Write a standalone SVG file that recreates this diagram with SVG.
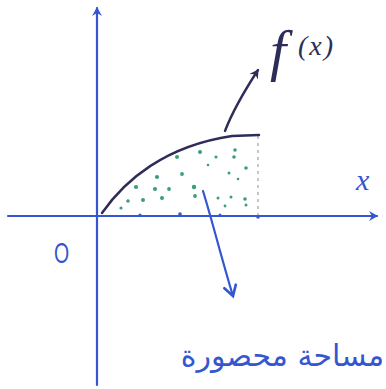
<svg xmlns="http://www.w3.org/2000/svg" width="386" height="389" viewBox="0 0 386 389">
<style>
.ax{stroke:#3556d0;stroke-width:2.2;fill:none;stroke-linecap:round}
.ink{stroke:#2e2d5a;stroke-width:2.4;fill:none;stroke-linecap:round}
.dot{fill:#3a9e7c}
.blue{fill:#3556d0}
.navy{fill:#2e2d5a}
</style>
<defs>
<marker id="ahB" markerWidth="12" markerHeight="12" refX="9" refY="6" orient="auto" markerUnits="userSpaceOnUse">
<path d="M1,1 L10,6 L1,11 L4,6 Z" fill="#3556d0"/>
</marker>
<marker id="ahN" markerWidth="12" markerHeight="12" refX="9" refY="6" orient="auto" markerUnits="userSpaceOnUse">
<path d="M1,1 L10,6 L1,11 L4,6 Z" fill="#2e2d5a"/>
</marker>
<marker id="ahV" markerWidth="16" markerHeight="16" refX="12" refY="8" orient="auto" markerUnits="userSpaceOnUse">
<path d="M2,2 L12,8 L2,14" fill="none" stroke="#3556d0" stroke-width="2.6" stroke-linecap="round"/>
</marker>
</defs>
<rect width="386" height="389" fill="#ffffff"/>
<g id="axes">
<line class="ax" x1="97" y1="385" x2="97" y2="8" marker-end="url(#ahB)"/>
<line class="ax" x1="8" y1="216" x2="377" y2="216" marker-end="url(#ahB)"/>
<g class="blue">
<circle cx="140" cy="215" r="1.6"/><circle cx="180" cy="214" r="1.8"/><circle cx="220" cy="215" r="1.5"/><circle cx="258" cy="217" r="1.8"/>
</g>
</g>
<g id="area">
<line x1="258" y1="136" x2="258" y2="215" stroke="#8a8a9a" stroke-width="1" stroke-dasharray="3,4"/>
<g class="dot">
<circle cx="177" cy="157" r="2"/><circle cx="200" cy="152" r="2"/><circle cx="216" cy="157" r="1.6"/><circle cx="235" cy="150" r="1.8"/>
<circle cx="234" cy="157" r="1.8"/><circle cx="208" cy="165" r="1.3"/><circle cx="246" cy="168" r="1.8"/><circle cx="229" cy="173" r="1.5"/>
<circle cx="182" cy="174" r="1.9"/><circle cx="157" cy="177" r="2.1"/><circle cx="238" cy="179" r="1.3"/><circle cx="136" cy="187" r="2.1"/>
<circle cx="155" cy="189" r="2.1"/><circle cx="169" cy="189" r="1.9"/><circle cx="194" cy="187" r="2.2"/><circle cx="128" cy="201" r="1.8"/>
<circle cx="143" cy="200" r="2"/><circle cx="162" cy="198" r="2"/><circle cx="195" cy="196" r="1.9"/><circle cx="218" cy="198" r="1.5"/>
<circle cx="231" cy="197" r="1.5"/><circle cx="245" cy="199" r="1.8"/><circle cx="121" cy="208" r="1.6"/><circle cx="225" cy="206" r="1.4"/>
<circle cx="246" cy="205" r="1.5"/>
</g>
</g>
<g id="curve">
<path class="ink" d="M102,213 C125,180 165,146 232,136 L259,135"/>
</g>
<g id="connectors">
<path class="ink" d="M225,131 C233,110 245,90 258,70" stroke-width="1.8" marker-end="url(#ahN)"/>
<path class="ax" d="M203,191 C212,220 222,260 233,296" stroke-width="2.4" marker-end="url(#ahV)"/>
</g>
<g id="labels">
<text x="54" y="263" font-family="Liberation Sans, sans-serif" font-size="30" class="blue" transform="translate(54 0) scale(0.65 1) translate(-54 0)">O</text>
<text x="356" y="190" font-family="Liberation Serif, serif" font-style="italic" font-size="30" class="blue">x</text>
<text x="270" y="70" font-family="Liberation Serif, serif" font-style="italic" font-size="58" class="navy">f</text>
<text x="298" y="55" font-family="Liberation Serif, serif" font-style="italic" font-size="28" letter-spacing="2" class="navy">(x)</text>
<text x="384" y="366" text-anchor="end" font-family="DejaVu Sans, sans-serif" font-size="30" class="blue">مساحة محصورة</text>
</g>
</svg>
